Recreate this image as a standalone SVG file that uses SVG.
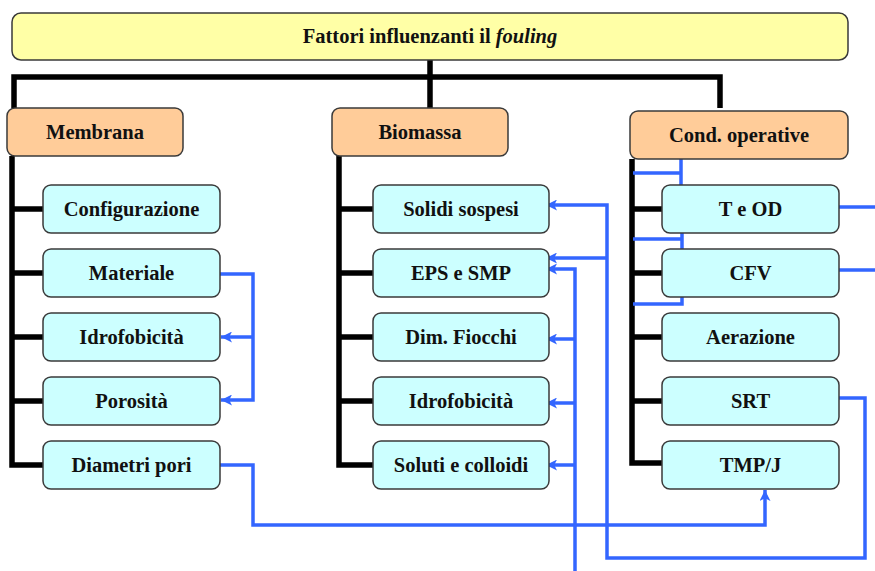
<svg xmlns="http://www.w3.org/2000/svg" width="875" height="571" viewBox="0 0 875 571">
<defs>
<style>
.box{stroke:#3a3a3a;stroke-width:1.5}
.title{fill:#FFFFA6}
.cat{fill:#FFCC99}
.leaf{fill:#CCFFFF}
text{font-family:"Liberation Serif","Times New Roman",serif;font-weight:bold;font-size:20.5px;fill:#111;text-anchor:middle}
.blk{fill:none;stroke:#000;stroke-width:5.5;stroke-linejoin:miter}
.blu{fill:none;stroke:#3366FF;stroke-width:3.5;stroke-linejoin:miter}
.arr{marker-end:url(#ah)}
</style>
<marker id="ah" markerUnits="userSpaceOnUse" viewBox="0 0 10 10" refX="10" refY="5" markerWidth="11" markerHeight="11" orient="auto">
<path d="M0,0 L10,5 L0,10 L2.5,5 z" fill="#3366FF"/>
</marker>
</defs>
<rect width="875" height="571" fill="#fff"/>
<g id="connectors">
<path class="blk" d="M430,60 V108 M14,108 V77 H720 V108"/>
<path class="blk" d="M12,156 V465 H43 M12,209 H43 M12,273 H43 M12,337 H43 M12,401 H43"/>
<path class="blk" d="M339,156 V465 H373 M339,209 H373 M339,273 H373 M339,337 H373 M339,401 H373"/>
<path class="blk" d="M632,159 V463 H662 M632,209 H662 M632,273 H662 M632,337 H662 M632,401 H662"/>
<path class="blu arr" d="M220,274 H253 V400 H221"/>
<path class="blu arr" d="M253,337 H221"/>
<path class="blu arr" d="M220,465 H253 V525 H765 V490"/>
<path class="blu arr" d="M836,398 H865 V558 H607 V205 H546"/>
<path class="blu arr" d="M607,258 H546"/>
<path class="blu arr" d="M575,571 V269 H546"/>
<path class="blu arr" d="M575,339 H546"/>
<path class="blu arr" d="M575,403 H546"/>
<path class="blu arr" d="M575,465 H546"/>
<path class="blu" d="M836,207 H875 M836,270 H875"/>
<path class="blu" d="M633,173 H681 M681,159 V185 M633,239 H682 M682,233 V249 M633,304 H682 V297"/>
</g>
<g id="n-title"><rect class="box title" x="12" y="13" width="836" height="47" rx="9"/><text x="430" y="43">Fattori influenzanti il <tspan font-style="italic">fouling</tspan></text></g>
<g id="n-membrana"><rect class="box cat" x="7" y="108" width="176" height="48" rx="8"/><text x="95" y="139">Membrana</text></g>
<g id="n-biomassa"><rect class="box cat" x="332" y="108" width="176" height="48" rx="8"/><text x="420" y="139">Biomassa</text></g>
<g id="n-cond"><rect class="box cat" x="630" y="111" width="218" height="48" rx="8"/><text x="739" y="142">Cond. operative</text></g>
<g id="n-configurazione"><rect class="box leaf" x="43" y="185" width="177" height="48" rx="8"/><text x="131.5" y="216">Configurazione</text></g>
<g id="n-materiale"><rect class="box leaf" x="43" y="249" width="177" height="48" rx="8"/><text x="131.5" y="280">Materiale</text></g>
<g id="n-idrofobicita1"><rect class="box leaf" x="43" y="313" width="177" height="48" rx="8"/><text x="131.5" y="344">Idrofobicità</text></g>
<g id="n-porosita"><rect class="box leaf" x="43" y="377" width="177" height="48" rx="8"/><text x="131.5" y="408">Porosità</text></g>
<g id="n-diametri"><rect class="box leaf" x="43" y="441" width="177" height="48" rx="8"/><text x="131.5" y="472">Diametri pori</text></g>
<g id="n-solidi"><rect class="box leaf" x="373" y="185" width="176" height="48" rx="8"/><text x="461" y="216">Solidi sospesi</text></g>
<g id="n-eps"><rect class="box leaf" x="373" y="249" width="176" height="48" rx="8"/><text x="461" y="280">EPS e SMP</text></g>
<g id="n-fiocchi"><rect class="box leaf" x="373" y="313" width="176" height="48" rx="8"/><text x="461" y="344">Dim. Fiocchi</text></g>
<g id="n-idrofobicita2"><rect class="box leaf" x="373" y="377" width="176" height="48" rx="8"/><text x="461" y="408">Idrofobicità</text></g>
<g id="n-soluti"><rect class="box leaf" x="373" y="441" width="176" height="48" rx="8"/><text x="461" y="472">Soluti e colloidi</text></g>
<g id="n-teod"><rect class="box leaf" x="662" y="185" width="177" height="48" rx="8"/><text x="750.5" y="216">T e OD</text></g>
<g id="n-cfv"><rect class="box leaf" x="662" y="249" width="177" height="48" rx="8"/><text x="750.5" y="280">CFV</text></g>
<g id="n-aerazione"><rect class="box leaf" x="662" y="313" width="177" height="48" rx="8"/><text x="750.5" y="344">Aerazione</text></g>
<g id="n-srt"><rect class="box leaf" x="662" y="377" width="177" height="48" rx="8"/><text x="750.5" y="408">SRT</text></g>
<g id="n-tmpj"><rect class="box leaf" x="662" y="441" width="177" height="48" rx="8"/><text x="750.5" y="472">TMP/J</text></g>
</svg>
